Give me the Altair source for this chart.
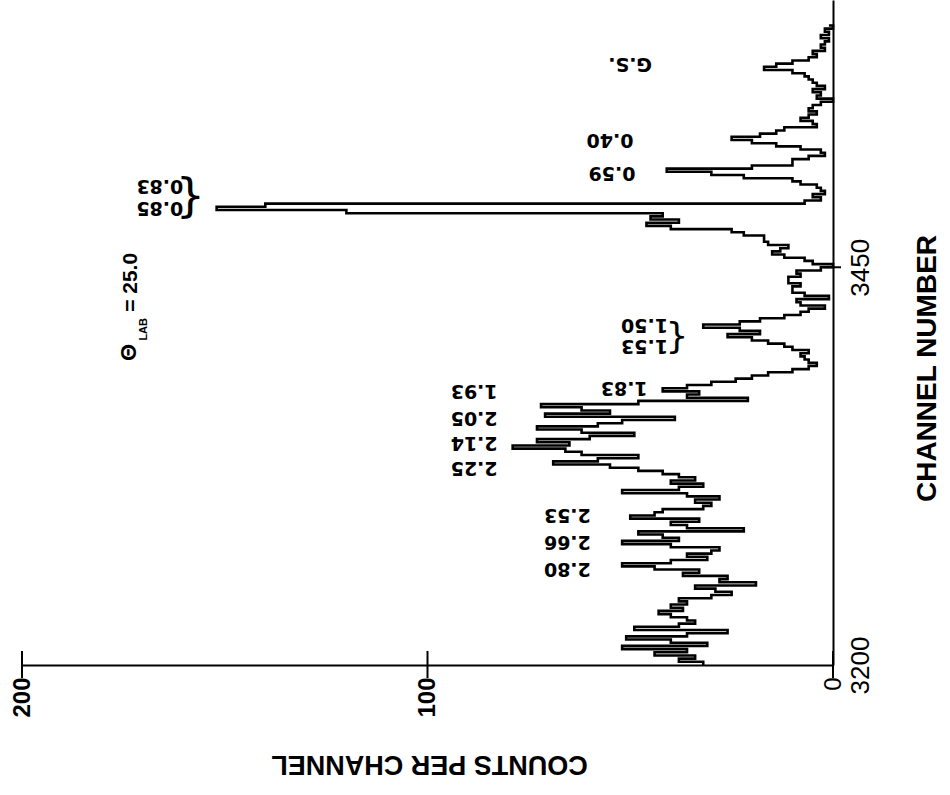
import altair as alt
import pandas as pd

# ---------------- data ----------------
channels = list(range(3200, 3604, 2))
counts = [
    32, 38, 34, 44, 36, 52, 31, 40, 51, 36,   # 3200
    26, 49, 38, 34, 36, 40, 43, 37, 40, 36,   # 3220
    38, 30, 25, 29, 34, 19, 28, 26, 37, 33,   # 3240
    44, 52, 40, 31, 36, 30, 28, 40, 52, 38,   # 3260
    42, 48, 22, 36, 40, 33, 50, 44, 42, 32,   # 3280
    30, 34, 28, 36, 52, 38, 32, 40, 34, 38,   # 3300
    42, 48, 55, 69, 58, 48, 62, 66, 79, 65,   # 3320
    73, 60, 49, 62, 73, 58, 52, 39, 71, 55,   # 3340
    62, 72, 48, 21, 36, 33, 42, 36, 30, 24,   # 3360
    20, 16, 10, 6, 4, 6, 7, 8, 6, 10,         # 3380
    12, 16, 20, 26, 18, 23, 32, 23, 18, 12,   # 3400
    8, 6, 2, 8, 9, 1, 7, 10, 10, 8,           # 3420
    11, 11, 8, 9, 3, 0, 5, 7, 12, 15,         # 3440
    13, 11, 16, 17, 17, 22, 25, 40, 46, 38,   # 3460
    45, 42, 120, 152, 140, 7, 3, 5, 2, 3,     # 3480
    4, 8, 10, 22, 30, 41, 20, 10, 10, 6,      # 3500
    2, 3, 8, 14, 20, 25, 18, 14, 12, 4,       # 3520
    5, 8, 6, 4, 6, 5, 3, 0, 4, 3,             # 3540
    5, 2, 4, 5, 6, 7, 10, 17, 14, 10,         # 3560
    6, 4, 5, 2, 3, 2, 1, 3, 1, 2,             # 3580
    0, 1,                                     # 3600
]

peak_labels = ["2.80", "2.66", "2.53", "2.25", "2.14", "2.05", "1.93", "1.83",
               "1.53", "1.50", "0.85", "0.83", "0.59", "0.40", "G.S."]
peak_label_counts = [65.5, 65.5, 65.5, 88.5, 88.5, 88.5, 88.5, 51.5,
                     46.5, 46.5, 166.0, 166.0, 54.5, 55.0, 50.0]
peak_label_channels = [3260.5, 3277.5, 3294.5, 3324.0, 3339.5, 3355.5, 3372.0, 3374.0,
                       3400.5, 3413.5, 3487.0, 3501.0, 3509.0, 3530.0, 3578.0]

brace_text = ["}", "}"]
brace_counts = [158.5, 38.5]
brace_channels = [3494.0, 3406.0]
brace_sizes = [46, 36]

theta_text = ["Θ", "LAB", "= 25.0"]
theta_counts = [173.5, 170.0, 173.0]
theta_channels = [3396.5, 3411.0, 3440.5]
theta_sizes = [22, 11, 21]

count_ticks = [0, 100, 200]
channel_ticks = [3200, 3450]
channel_minor_ticks = [3450]

# ---------------- chart ----------------
W, H = 811, 665
xscale = alt.Scale(domain=[0, 200], reverse=True, nice=False, zero=False)
yscale = alt.Scale(domain=[3200, 3618], nice=False, zero=False)

x_axis = alt.Axis(values=count_ticks, grid=False, domainColor="black", domainWidth=2,
                  ticks=False, labelAngle=270, labelAlign="right", labelBaseline="middle",
                  labelPadding=12, labelFont="Liberation Sans", labelFontSize=24,
                  labelFontWeight={"condition": {"test": "datum.value == 0", "value": "normal"},
                                   "value": "bold"},
                  labelColor="black", titleFont="Liberation Sans", titleFontSize=27,
                  titleFontWeight="bold", titleColor="black", titleAngle=180,
                  titleAlign="center", titleBaseline="middle", titleX=407, titleY=98)
y_axis = alt.Axis(orient="right", values=channel_ticks, format="d", grid=False,
                  domainColor="black", domainWidth=2, ticks=False, labelAngle=270,
                  labelAlign="center", labelBaseline="top", labelPadding=14,
                  labelFont="Liberation Sans", labelFontSize=26, labelFontWeight="normal",
                  labelColor="black", titleFont="Liberation Sans", titleFontSize=28,
                  titleFontWeight="bold", titleColor="black", titleAngle=270,
                  titleAlign="center", titleBaseline="middle", titleX=94, titleY=368)


def X():
    return alt.X("count:Q", scale=xscale, title="COUNTS PER CHANNEL", axis=x_axis)


def Y():
    return alt.Y("channel:Q", scale=yscale, title="CHANNEL NUMBER", axis=y_axis)


spec_df = pd.DataFrame({"channel": channels, "count": counts})

spectrum = alt.Chart(spec_df).mark_line(
    interpolate="step-before", color="black", strokeWidth=2.6
).encode(
    x=X(), y=Y(), order=alt.Order("channel:Q"),
)

tick_df = pd.DataFrame({"count": count_ticks})
count_tick_rules = alt.Chart(tick_df).mark_rule(color="black", strokeWidth=2).encode(
    x=X(), y=alt.value(651), y2=alt.value(678),
)

ch_tick_df = pd.DataFrame({"channel": channel_minor_ticks})
channel_tick_rules = alt.Chart(ch_tick_df).mark_rule(color="black", strokeWidth=2).encode(
    y=Y(), x=alt.value(W - 10), x2=alt.value(W + 8),
)

lab_df = pd.DataFrame({"label": peak_labels, "count": peak_label_counts,
                       "channel": peak_label_channels})
labels = alt.Chart(lab_df).mark_text(
    angle=180, font="DejaVu Sans", fontWeight="bold", fontSize=19, color="black",
    align="center", baseline="middle"
).encode(x=X(), y=Y(), text="label:N")

br_df = pd.DataFrame({"t": brace_text, "count": brace_counts, "channel": brace_channels,
                      "size": brace_sizes})
braces = alt.Chart(br_df).mark_text(
    font="DejaVu Sans", fontWeight="normal", color="black", align="center", baseline="middle"
).encode(
    x=X(), y=Y(),
    size=alt.Size("size:Q", scale=None, legend=None),
    text="t:N",
)

th_df = pd.DataFrame({"t": theta_text, "count": theta_counts, "channel": theta_channels,
                      "size": theta_sizes})
theta = alt.Chart(th_df).mark_text(
    angle=270, font="Liberation Sans", fontWeight="bold", color="black",
    align="center", baseline="middle"
).encode(
    x=X(), y=Y(),
    size=alt.Size("size:Q", scale=None, legend=None),
    text="t:N",
)

chart = alt.layer(
    spectrum, count_tick_rules, channel_tick_rules, labels, braces, theta
).properties(
    width=W, height=H,
    autosize=alt.AutoSizeParams(type="none"),
    padding={"left": 22, "top": 0, "right": 117, "bottom": 130},
    background="white",
).configure_view(stroke=None)

chart.save("out.html", embed_options={"renderer": "svg", "actions": False})
